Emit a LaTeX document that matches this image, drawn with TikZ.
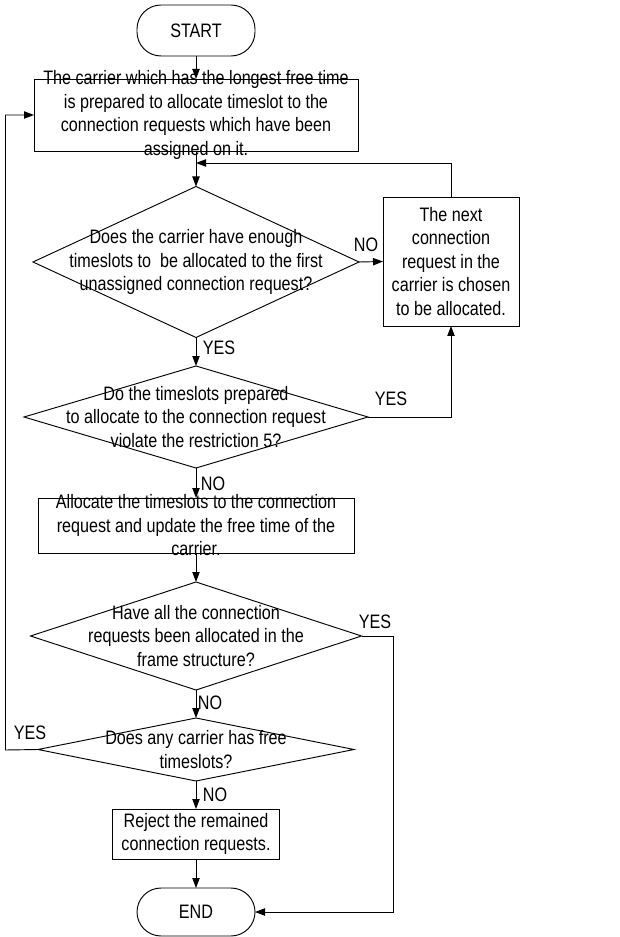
\documentclass[tikz,border=0pt]{standalone}
\usepackage{fontspec}
\setmainfont[FakeStretch=0.83]{Liberation Sans}
\usetikzlibrary{shapes.geometric,arrows.meta}
\begin{document}
\begin{tikzpicture}[x=0.75pt,y=-0.75pt, line width=0.7pt,
  every node/.style={font=\fontsize{14.6pt}{17.6pt}\selectfont},
  shp/.style={draw, inner sep=0pt, outer sep=0pt},
  boxs/.style={shp, rectangle},
  term/.style={shp, rectangle, rounded corners=18pt},
  dia/.style={shp, diamond},
  txt/.style={align=center, inner sep=0pt},
  lbl/.style={inner sep=0pt},
  arr/.style={-{Triangle[length=7.5pt,width=5.5pt]}}]
\useasboundingbox (0,0) rectangle (619,937);

% shapes
\node[term, minimum width=88.5pt, minimum height=38.25pt] (start) at (196,30.5) {};
\node[boxs, minimum width=243pt, minimum height=54pt] (b1) at (196,115) {};
\node[dia, minimum width=244.5pt, minimum height=113.25pt] (d1) at (196,262) {};
\node[boxs, minimum width=102pt, minimum height=96.75pt] (b2) at (451,261.5) {};
\node[dia, minimum width=258pt, minimum height=76.5pt] (d2) at (196,417) {};
\node[boxs, minimum width=237pt, minimum height=41.25pt] (b3) at (196,525.5) {};
\node[dia, minimum width=248.25pt, minimum height=81pt] (d3) at (196,636) {};
\node[dia, minimum width=237pt, minimum height=47.25pt] (d4) at (196,749.5) {};
\node[boxs, minimum width=125.25pt, minimum height=37.5pt] (b4) at (196,834) {};
\node[term, minimum width=88.5pt, minimum height=36pt] (end) at (196,912) {};

% texts
\node[txt] (tstart) at (start.center) {START};
\node[txt] (t1) at (b1.center) {The carrier which has the longest free time\\is prepared to allocate timeslot to the\\connection requests which have been\\assigned on it.};
\node[txt] (t2) at (d1.center) {Does the carrier have enough\\timeslots to\ \ be allocated to the first\\unassigned connection request?};
\node[txt] (t3) at (b2.center) {The next\\connection\\request in the\\carrier is chosen\\to be allocated.};
\node[txt] (t4) at (d2.center) {Do the timeslots prepared\\to allocate to the connection request\\violate the restriction 5?};
\node[txt] (t5) at (b3.center) {Allocate the timeslots to the connection\\request and update the free time of the\\carrier.};
\node[txt] (t6) at (d3.center) {Have all the connection\\requests been allocated in the\\frame structure?};
\node[txt] (t7) at (d4.center) {Does any carrier has free\\timeslots?};
\node[txt] (t8) at (b4.center) {Reject the remained\\connection requests.};
\node[txt] (tend) at (end.center) {END};

% branch labels
\node[lbl] (l1) at (366,245) {NO};
\node[lbl] (l2) at (219,348) {YES};
\node[lbl] (l3) at (391,399) {YES};
\node[lbl] (l4) at (213,484) {NO};
\node[lbl] (l5) at (375,622) {YES};
\node[lbl] (l6) at (210,703) {NO};
\node[lbl] (l7) at (30,733) {YES};
\node[lbl] (l8) at (215,795) {NO};

% helper coordinates
\coordinate (m1) at (196,163);
\coordinate (c1) at (393,636);
\coordinate (c2) at (5.5,750);

% connectors
\draw[arr] (start) -- (b1);
\draw[arr] (b1) -- (d1);
\draw[arr] (d1.east) -- (b2.west);
\draw[arr] (b2.north) |- (m1);
\draw[arr] (d1.south) -- (d2.north);
\draw[arr] (d2.east) -| (b2.south);
\draw[arr] (d2.south) -- (b3.north);
\draw[arr] (b3.south) -- (d3.north);
\draw[arr] (d3.east) -- (c1) |- (end.east);
\draw[arr] (d3.south) -- (d4.north);
\draw[arr] (d4.west) -- (c2) |- (b1.west);
\draw[arr] (d4.south) -- (b4.north);
\draw[arr] (b4.south) -- (end.north);
\end{tikzpicture}
\end{document}
